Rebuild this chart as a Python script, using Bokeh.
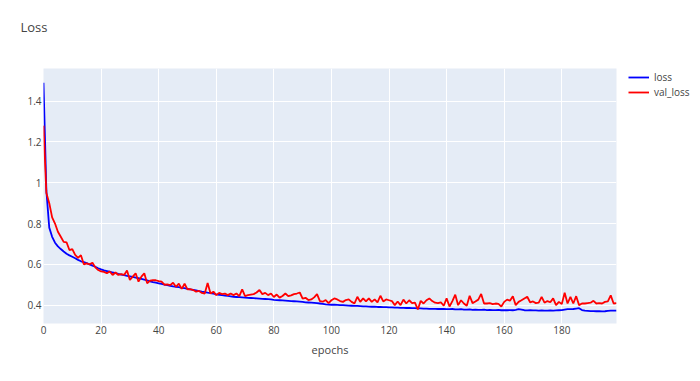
from bokeh.plotting import figure
from bokeh.models import Legend, LegendItem, FixedTicker, Range1d, Title
from bokeh.embed import file_html
from bokeh.resources import INLINE

epochs = list(range(200))

loss = [
    1.49, 0.96, 0.78, 0.735, 0.706, 0.688, 0.675, 0.663, 0.652, 0.644,
    0.637, 0.630, 0.622, 0.615, 0.611, 0.606, 0.600, 0.594, 0.588, 0.581,
    0.575, 0.570, 0.567, 0.564, 0.560, 0.557, 0.553, 0.550, 0.547, 0.544,
    0.541, 0.538, 0.535, 0.532, 0.529, 0.525, 0.521, 0.517, 0.513, 0.510,
    0.507, 0.504, 0.501, 0.498, 0.495, 0.492, 0.490, 0.488, 0.485, 0.483,
    0.480, 0.477, 0.475, 0.472, 0.469, 0.466, 0.464, 0.461, 0.459, 0.456,
    0.453, 0.451, 0.449, 0.447, 0.445, 0.443, 0.441, 0.440, 0.439, 0.438,
    0.437, 0.436, 0.435, 0.434, 0.433, 0.432, 0.431, 0.430, 0.429, 0.428,
    0.426, 0.425, 0.424, 0.423, 0.422, 0.421, 0.420, 0.419, 0.418, 0.417,
    0.416, 0.414, 0.413, 0.412, 0.411, 0.410, 0.408, 0.406, 0.404, 0.403,
    0.402, 0.402, 0.401, 0.400, 0.400, 0.399, 0.398, 0.397, 0.396, 0.396,
    0.395, 0.394, 0.394, 0.393, 0.392, 0.392, 0.391, 0.391, 0.390, 0.390,
    0.389, 0.389, 0.388, 0.388, 0.387, 0.387, 0.386, 0.386, 0.385, 0.385,
    0.384, 0.384, 0.383, 0.383, 0.382, 0.382, 0.382, 0.381, 0.381, 0.381,
    0.380, 0.380, 0.381, 0.379, 0.379, 0.380, 0.378, 0.378, 0.379, 0.377,
    0.378, 0.377, 0.377, 0.378, 0.376, 0.377, 0.376, 0.376, 0.377, 0.375,
    0.376, 0.375, 0.376, 0.375, 0.377, 0.380, 0.378, 0.375, 0.374, 0.375,
    0.374, 0.374, 0.373, 0.374, 0.373, 0.373, 0.374, 0.373, 0.374, 0.375,
    0.376, 0.378, 0.380, 0.380, 0.381, 0.383, 0.385, 0.376, 0.373, 0.372,
    0.371, 0.371, 0.370, 0.370, 0.369, 0.370, 0.372, 0.373, 0.373, 0.373,
]

val_loss = [
    1.28, 0.95, 0.90, 0.83, 0.80, 0.76, 0.735, 0.71, 0.708, 0.67,
    0.675, 0.646, 0.632, 0.645, 0.60, 0.605, 0.60, 0.608, 0.585, 0.572,
    0.565, 0.563, 0.556, 0.565, 0.548, 0.56, 0.548, 0.552, 0.548, 0.57,
    0.523, 0.54, 0.556, 0.515, 0.54, 0.556, 0.507, 0.52, 0.522, 0.522,
    0.518, 0.515, 0.50, 0.502, 0.498, 0.51, 0.49, 0.505, 0.48, 0.505,
    0.477, 0.478, 0.474, 0.466, 0.47, 0.46, 0.457, 0.508, 0.457, 0.466,
    0.449, 0.46, 0.454, 0.457, 0.449, 0.457, 0.449, 0.457, 0.444, 0.477,
    0.444, 0.449, 0.452, 0.454, 0.462, 0.474, 0.454, 0.46, 0.449, 0.457,
    0.44, 0.452, 0.437, 0.445, 0.457, 0.444, 0.448, 0.454, 0.457, 0.462,
    0.432, 0.436, 0.425, 0.428, 0.438, 0.454, 0.42, 0.417, 0.425, 0.41,
    0.424, 0.433, 0.428, 0.420, 0.416, 0.425, 0.428, 0.416, 0.408, 0.441,
    0.416, 0.433, 0.418, 0.433, 0.416, 0.428, 0.414, 0.446, 0.418, 0.428,
    0.424, 0.42, 0.40, 0.418, 0.40, 0.427, 0.408, 0.424, 0.41, 0.412,
    0.379, 0.421, 0.408, 0.424, 0.433, 0.42, 0.412, 0.41, 0.414, 0.397,
    0.433, 0.393, 0.42, 0.451, 0.40, 0.424, 0.408, 0.397, 0.446, 0.41,
    0.418, 0.427, 0.455, 0.408, 0.408, 0.41, 0.405, 0.408, 0.406, 0.393,
    0.416, 0.427, 0.422, 0.444, 0.40, 0.416, 0.424, 0.433, 0.441, 0.414,
    0.418, 0.41, 0.412, 0.441, 0.412, 0.42, 0.414, 0.433, 0.40, 0.416,
    0.405, 0.461, 0.408, 0.441, 0.408, 0.444, 0.40, 0.408, 0.408, 0.41,
    0.412, 0.421, 0.408, 0.41, 0.408, 0.416, 0.418, 0.448, 0.408, 0.41,
]

x_ticks = [0, 20, 40, 60, 80, 100, 120, 140, 160, 180]
y_ticks = [0.4, 0.6, 0.8, 1.0, 1.2, 1.4]
y_tick_labels = ["0.4", "0.6", "0.8", "1", "1.2", "1.4"]
series_names = ["loss", "val_loss"]
series_colors = ["#0000FF", "#FF0000"]
chart_title = "Loss"

FONT = "Open Sans"
TXT = "#444444"

p = figure(
    frame_width=573, frame_height=255,
    output_backend="svg", toolbar_location=None,
    x_range=Range1d(0, 199), y_range=Range1d(0.31, 1.56),
    min_border_left=43, min_border_right=84,
    min_border_top=68, min_border_bottom=58,
    title_location=None,
)
p.background_fill_color = "#E5ECF6"
p.border_fill_color = "white"
p.outline_line_color = None

# spacer (closest to the frame), then the visible title above it
spacer = Title(text=" ", text_font=FONT, text_font_size="10px", standoff=17)
p.add_layout(spacer, "above")
title = Title(
    text=chart_title, text_font=FONT, text_font_size="13px",
    text_font_style="normal", text_color=TXT, align="left",
    offset=-23, standoff=0,
)
p.add_layout(title, "above")

r1 = p.line(epochs, loss, line_color=series_colors[0], line_width=1.8)
r2 = p.line(epochs, val_loss, line_color=series_colors[1], line_width=1.8)

for ax in (p.xaxis[0], p.yaxis[0]):
    ax.axis_line_color = None
    ax.major_tick_line_color = None
    ax.minor_tick_line_color = None
    ax.major_tick_out = 0
    ax.major_tick_in = 0
    ax.minor_tick_out = 0
    ax.minor_tick_in = 0
    ax.major_label_text_font = FONT
    ax.major_label_text_font_size = "10px"
    ax.major_label_text_color = TXT
    ax.major_label_standoff = 2

p.xaxis.ticker = FixedTicker(ticks=x_ticks)
p.yaxis.ticker = FixedTicker(ticks=y_ticks)
p.yaxis.major_label_overrides = {t: l for t, l in zip(y_ticks, y_tick_labels)}
p.xaxis.axis_label = "epochs"
p.xaxis.axis_label_text_font = FONT
p.xaxis.axis_label_text_font_size = "11px"
p.xaxis.axis_label_text_font_style = "normal"
p.xaxis.axis_label_text_color = TXT
p.xaxis.axis_label_standoff = 5

p.xgrid.grid_line_color = "white"
p.ygrid.grid_line_color = "white"
p.xgrid.grid_line_width = 1
p.ygrid.grid_line_width = 1

legend = Legend(
    items=[LegendItem(label=series_names[0], renderers=[r1]),
           LegendItem(label=series_names[1], renderers=[r2])],
    location=(12, 224),
    border_line_color=None,
    background_fill_alpha=0,
    label_text_font=FONT,
    label_text_font_size="10px",
    label_text_color=TXT,
    glyph_width=21,
    glyph_height=12,
    label_height=12,
    spacing=1,
    label_standoff=5,
    margin=0,
    padding=0,
)
p.add_layout(legend, "right")

open("out.html", "w").write(file_html(p, INLINE))
